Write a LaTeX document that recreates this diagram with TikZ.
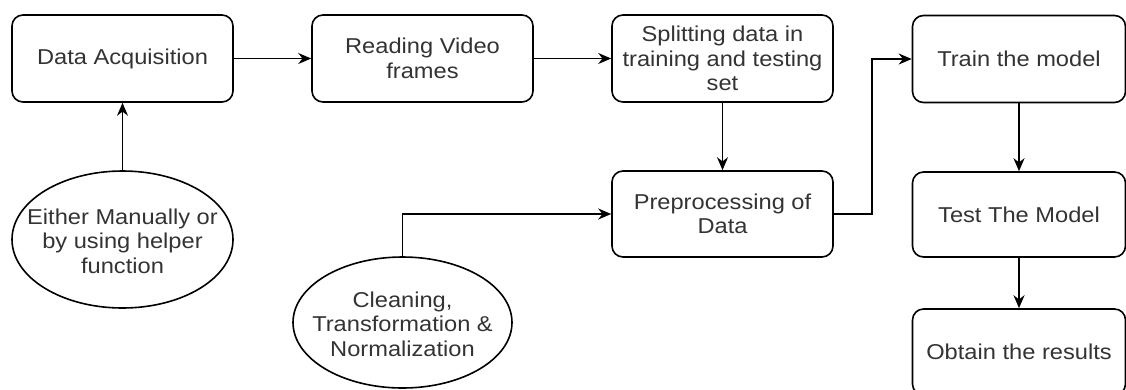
\documentclass[tikz,border=0pt]{standalone}
\usepackage{fontspec}
\setmainfont{Liberation Sans}[FakeStretch=1.1]
\usetikzlibrary{arrows.meta,shapes.geometric}
\begin{document}
\begin{tikzpicture}[x=1pt,y=-1pt,
  every node/.style={font=\fontsize{21.5}{24.5}\selectfont, text=black!80},
  box/.style={draw=black, line width=1.6pt, rounded corners=11pt, minimum width=221pt, minimum height=87pt, inner sep=2pt, align=center},
  oval/.style={draw=black, line width=1.6pt, ellipse, inner sep=0pt},
  lbl/.style={align=center, inner sep=0pt},
  conn/.style={draw=black, line width=1.6pt, -{Stealth[length=13pt,width=11pt]}}
]
\useasboundingbox (0,0) rectangle (1126,389);

\node[box] (da) at (122.5,58.5) {Data Acquisition};
\node[box] (rvf) at (422.5,58.5) {Reading Video\\frames};
\node[box] (split) at (722.5,58.5) {Splitting data in\\training and testing\\set};
\node[box, minimum height=86pt] (pre) at (722.5,214) {Preprocessing of\\Data};
\node[box, minimum width=213pt] (train) at (1019,59) {Train the model};
\node[box, minimum width=213pt, minimum height=85pt] (test) at (1019,214.5) {Test The Model};
\node[box, minimum width=213pt, minimum height=86pt] (obtain) at (1019,352) {Obtain the results};

\node[oval, minimum width=221pt, minimum height=137pt] (e1) at (122.5,239.5) {};
\node[lbl] (t1) at (122.5,241) {Either Manually or\\by using helper\\function};
\node[oval, minimum width=219pt, minimum height=131pt] (e2) at (402.5,322.5) {};
\node[lbl] (t2) at (402.5,324) {Cleaning,\\Transformation \&\\Normalization};

\coordinate (bend) at (872,214);

\draw[conn] (e1.north) -- (da.south);
\draw[conn] (da.east) -- (rvf.west);
\draw[conn] (rvf.east) -- (split.west);
\draw[conn] (split.south) -- (pre.north);
\draw[conn] (e2.north) |- (pre.west);
\draw[conn] (pre.east) -- (bend) |- (train.west);
\draw[conn] (train.south) -- (test.north);
\draw[conn] (test.south) -- (obtain.north);
\end{tikzpicture}
\end{document}
